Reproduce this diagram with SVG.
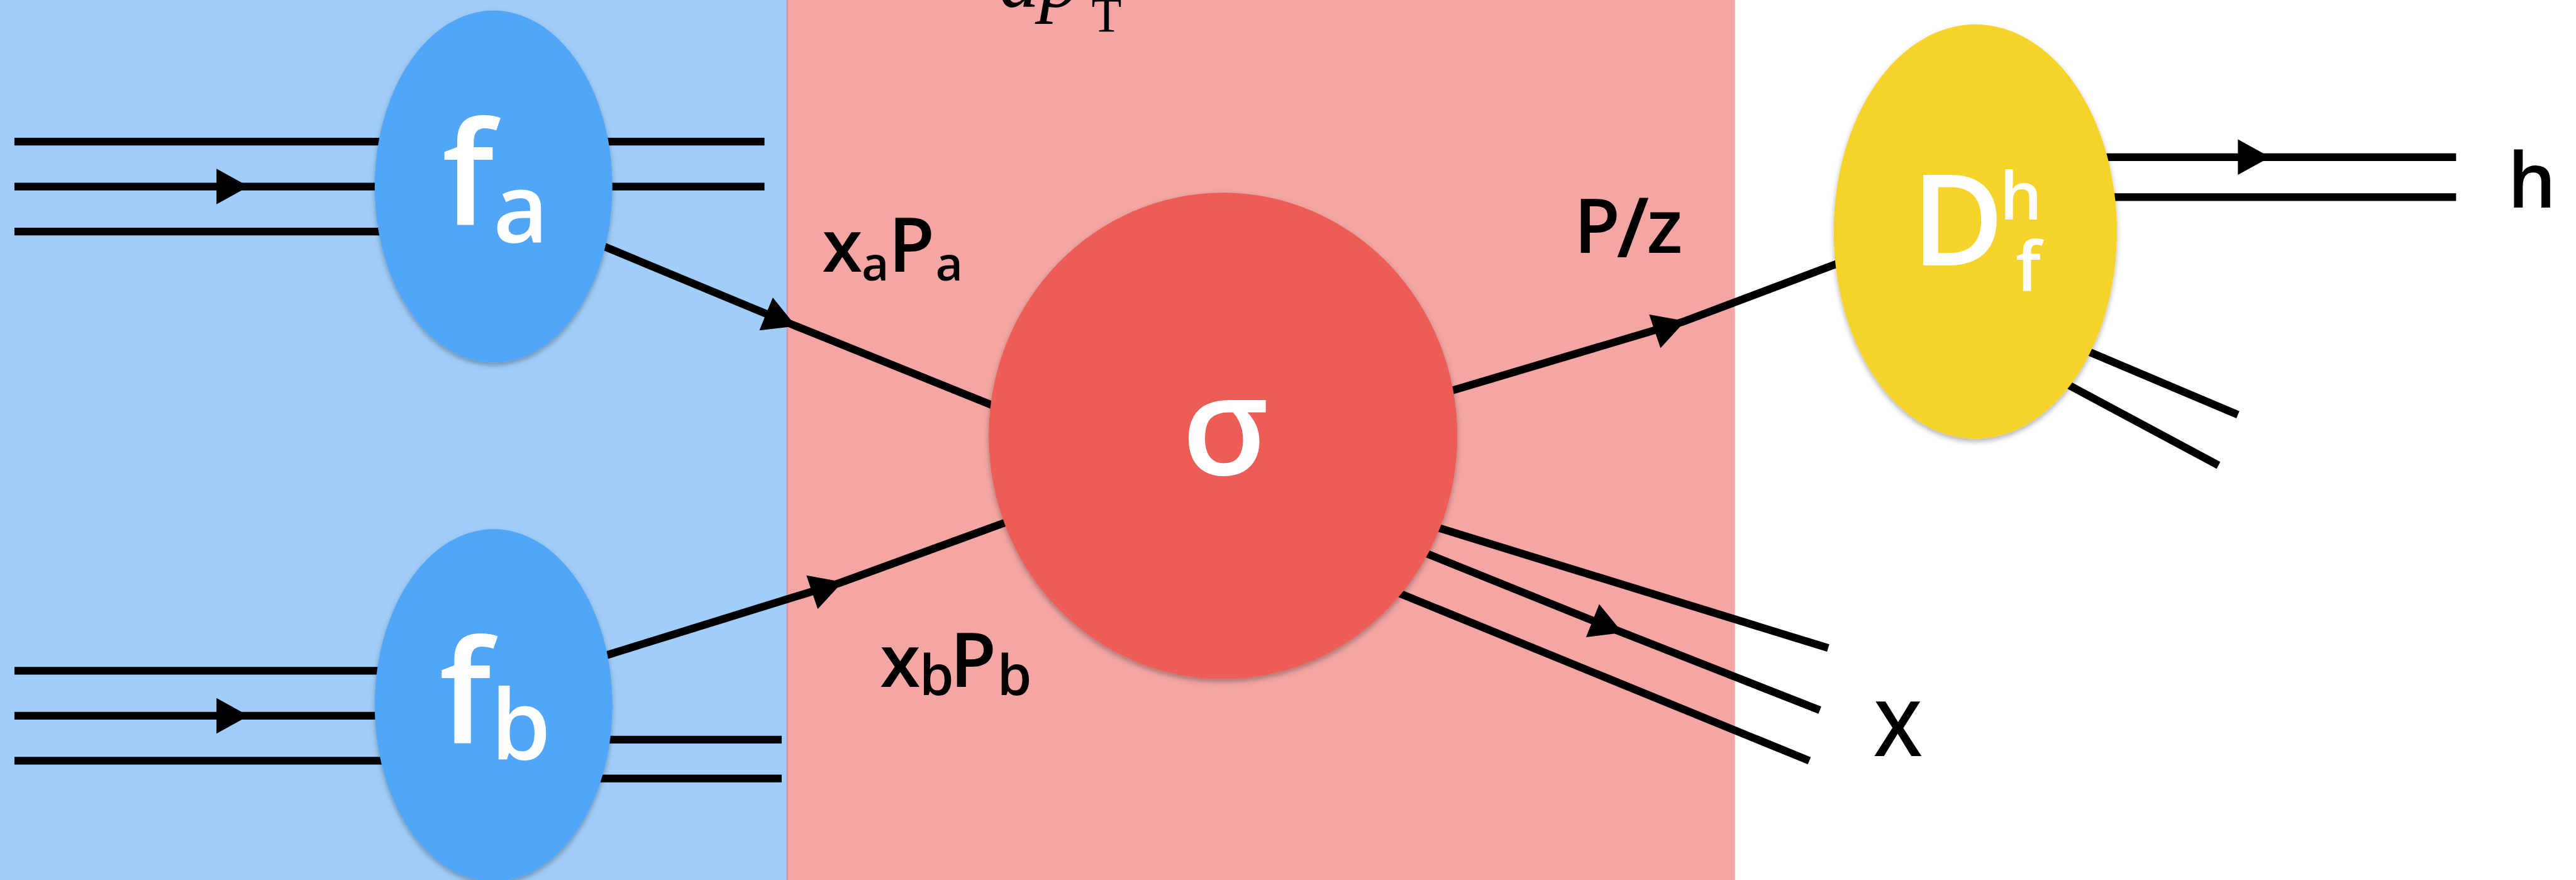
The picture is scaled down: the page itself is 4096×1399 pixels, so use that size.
<svg xmlns="http://www.w3.org/2000/svg" width="4096" height="1399" viewBox="0 0 4096 1399">
<defs>
<style>
.ln{fill:none;stroke:#000;stroke-width:14;stroke-linecap:butt;stroke-linejoin:miter}
.arr{marker-mid:url(#arr)}
.wl{fill:#fff;font-family:"Open Sans","DejaVu Sans",sans-serif;font-weight:600}
.bl{fill:#000;font-family:"Open Sans","DejaVu Sans",sans-serif;font-weight:600}
.node{filter:url(#sh)}
</style>
<marker id="arr" markerUnits="userSpaceOnUse" markerWidth="80" markerHeight="80" viewBox="-70 -40 80 80" refX="0" refY="0" orient="auto" overflow="visible">
<path d="M6,0 L-52,-32 L-52,32 Z" fill="#000"/>
</marker>
<filter id="sh" x="-10%" y="-10%" width="120%" height="125%">
<feDropShadow dx="0" dy="5" stdDeviation="5" flood-color="#000" flood-opacity="0.3"/>
</filter>
</defs>
<g transform="scale(0.88276)">
<g id="background">
<rect x="0" y="0" width="4640" height="1585" fill="#ffffff"/>
<rect x="0" y="0" width="1417" height="1585" fill="#A0CEF9"/>
<rect x="1417" y="0" width="1708" height="1585" fill="#F3A6A3"/>
<line x1="1418" y1="0" x2="1418" y2="1585" stroke="#D696A6" stroke-width="3"/>
</g>
<g id="title">
<text x="1800" y="13" font-family="'Liberation Serif','DejaVu Serif',serif" font-style="italic" font-size="145" fill="#000">dp</text>
<text x="1966" y="57" font-family="'Liberation Serif','DejaVu Serif',serif" font-size="89" fill="#000">T</text>
</g>
<g id="connectors">
<polyline class="ln" points="26,255 1377,255"/>
<polyline class="ln arr" points="26,336 442,336 1377,336"/>
<polyline class="ln" points="26,417 900,417"/>
<polyline class="ln" points="26,1208 900,1208"/>
<polyline class="ln arr" points="26,1289 442,1289 900,1289"/>
<polyline class="ln" points="26,1370 900,1370"/>
<polyline class="ln" points="900,1332 1408,1332"/>
<polyline class="ln" points="900,1402 1408,1402"/>
<polyline class="ln arr" points="1050,428 1428,585 1800,735"/>
<polyline class="ln arr" points="1060,1190 1512,1050 1830,934"/>
<polyline class="ln arr" points="2590,711 3030,580 3330,467"/>
<polyline class="ln" points="2560,941 3293,1167"/>
<polyline class="ln arr" points="2560,993 2917,1137 3278,1279"/>
<polyline class="ln" points="2500,1060 3259,1370"/>
<polyline class="ln arr" points="3700,283 4083,283 4424,283"/>
<polyline class="ln" points="3700,355 4424,355"/>
<polyline class="ln" points="3700,607 4031,747"/>
<polyline class="ln" points="3690,674 3996,838"/>
</g>
<g id="node-fa">
<ellipse class="node" cx="889" cy="336" rx="214" ry="317" fill="#51A6F8"/>
<text class="wl"><tspan x="796" y="405" font-size="259">f</tspan><tspan x="888" y="437" font-size="172">a</tspan></text>
</g>
<g id="node-fb">
<ellipse class="node" cx="889" cy="1270" rx="214" ry="317" fill="#51A6F8"/>
<text class="wl"><tspan x="791" y="1339" font-size="259">f</tspan><tspan x="884" y="1369" font-size="174">b</tspan></text>
</g>
<g id="node-sigma">
<ellipse class="node" cx="2203" cy="785" rx="422" ry="438" fill="#EB5D57"/>
<text class="wl" x="2207" y="855" font-size="248" font-weight="700" text-anchor="middle">σ</text>
</g>
<g id="node-D">
<ellipse class="node" cx="3558" cy="417" rx="255" ry="373" fill="#F5D32A"/>
<text class="wl"><tspan x="3443" y="478" font-size="228">D</tspan><tspan x="3602" y="395" font-size="120">h</tspan><tspan x="3631" y="523" font-size="124">f</tspan></text>
</g>
<g id="labels">
<text class="bl"><tspan x="1481" y="489" font-size="132">x</tspan><tspan x="1552" y="505" font-size="85">a</tspan><tspan x="1600" y="489" font-size="136">P</tspan><tspan x="1685" y="505" font-size="85">a</tspan></text>
<text class="bl"><tspan x="1585" y="1237" font-size="132">x</tspan><tspan x="1656" y="1252" font-size="100">b</tspan><tspan x="1711" y="1237" font-size="136">P</tspan><tspan x="1796" y="1252" font-size="100">b</tspan></text>
<text class="bl"><tspan x="2835" y="455" font-size="136">P</tspan><tspan x="2912" y="463" font-size="150">/</tspan><tspan x="2966" y="455" font-size="136">z</tspan></text>
<text class="bl" x="3376" y="1362" font-size="137">X</text>
<text class="bl" x="4517" y="374" font-size="137">h</text>
</g>
</g>
</svg>
